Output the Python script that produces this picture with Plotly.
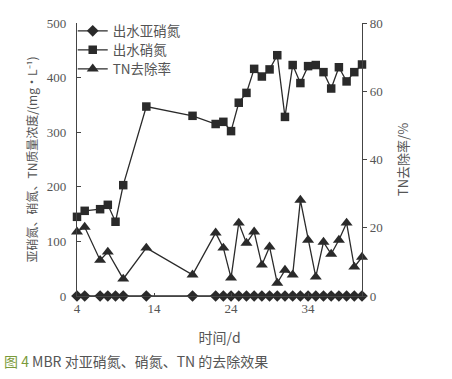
import plotly.graph_objects as go

# Days of sampling
days_no2 = [4, 5, 7, 8, 9, 10, 13, 19] + list(range(22, 42))
nitrite = [0] * len(days_no2)

days_no3 = [4, 5, 7, 8, 9, 10, 13, 19] + list(range(22, 42))
nitrate = [145, 156, 159, 167, 136, 203, 347, 330,
           315, 319, 302, 354, 372, 416, 402, 415, 441, 328,
           423, 390, 421, 423, 410, 380, 419, 393, 410, 424]

days_tn = [4, 5, 7, 8, 10, 13, 19] + list(range(22, 42))
tn_removal = [18.8, 20.2, 10.5, 12.9, 5.0, 14.1, 6.2,
              18.5, 14.1, 5.3, 21.4, 15.5, 18.8, 9.1, 14.4, 3.8, 7.6,
              6.2, 28.1, 16.4, 5.6, 15.8, 12.3, 16.4, 21.4, 8.5, 11.4]

x_ticks = [4, 14, 24, 34]
left_ticks = [0, 100, 200, 300, 400, 500]
right_ticks = [0, 20, 40, 60, 80]

serif = "Liberation Serif, Noto Sans CJK SC, serif"
cjk = "Noto Sans CJK SC, Liberation Serif, serif"
ink = "#2a2a2a"
txt = "#555555"

fig = go.Figure()
fig.add_trace(go.Scatter(x=days_no2, y=nitrite, name="出水亚硝氮", mode="lines+markers",
                         legend="legend",
                         line=dict(color=ink, width=1.3),
                         marker=dict(symbol="diamond", size=9, color=ink),
                         cliponaxis=False))
fig.add_trace(go.Scatter(x=days_no3, y=nitrate, name="出水硝氮", mode="lines+markers",
                         legend="legend2",
                         line=dict(color=ink, width=1.3),
                         marker=dict(symbol="square", size=8.5, color=ink),
                         cliponaxis=False))
fig.add_trace(go.Scatter(x=days_tn, y=tn_removal, name="TN去除率", mode="lines+markers",
                         yaxis="y2", legend="legend3",
                         line=dict(color=ink, width=1.3),
                         marker=dict(symbol="triangle-up", size=10.5, color=ink),
                         cliponaxis=False))

leg = dict(x=-0.015, xanchor="left", yanchor="middle",
           bgcolor="rgba(0,0,0,0)", font=dict(family=cjk, size=13.5, color=txt),
           itemwidth=30)

fig.update_layout(
    width=452, height=379,
    margin=dict(l=77, r=90, t=23, b=83, autoexpand=False),
    paper_bgcolor="white", plot_bgcolor="white",
    font=dict(family=serif, size=12, color=txt),
    showlegend=True,
    legend=dict(leg, y=(296 - 31) / 273),
    legend2=dict(leg, y=(296 - 50) / 273),
    legend3=dict(leg, y=(296 - 69) / 273),
    xaxis=dict(range=[4, 41], tickvals=x_ticks, showgrid=False, zeroline=False,
               showline=True, linecolor="#444", linewidth=1.2, automargin=False,
               ticks="inside", ticklen=3, tickcolor="#444",
               tickfont=dict(family=serif, size=13, color=txt),
               title=dict(text="时间/d", font=dict(family=cjk, size=14, color=txt), standoff=18)),
    yaxis=dict(range=[0, 500], tickvals=left_ticks, showgrid=False, zeroline=False,
               showline=True, linecolor="#444", linewidth=1.2, automargin=False,
               ticks="inside", ticklen=4, tickcolor="#444",
               ticklabelstandoff=7,
               tickfont=dict(family=serif, size=13, color=txt),
               title=dict(text="亚硝氮、硝氮、TN质量浓度/(mg·L⁻¹)",
                          font=dict(family=cjk, size=12, color=txt), standoff=6)),
    yaxis2=dict(range=[0, 80], tickvals=right_ticks, overlaying="y", side="right",
                showgrid=False, zeroline=False, automargin=False,
                showline=True, linecolor="#444", linewidth=1.2,
                ticks="outside", ticklen=4, tickcolor="#444",
                tickfont=dict(family=serif, size=13, color=txt),
                title=dict(text="TN去除率/%", font=dict(family=cjk, size=13, color=txt), standoff=17)),
)

fig.add_annotation(text="<span style='color:#7a9a3a'>图 4</span> MBR 对亚硝氮、硝氮、TN 的去除效果",
                   xref="paper", yref="paper", x=-75/285, y=-(361-296)/273,
                   xanchor="left", yanchor="middle", showarrow=False,
                   font=dict(family="Noto Sans CJK SC, sans-serif", size=14, color="#555"))

fig.write_html("out.html", config={"displayModeBar": False},
               post_script="document.body.style.margin='0';")
